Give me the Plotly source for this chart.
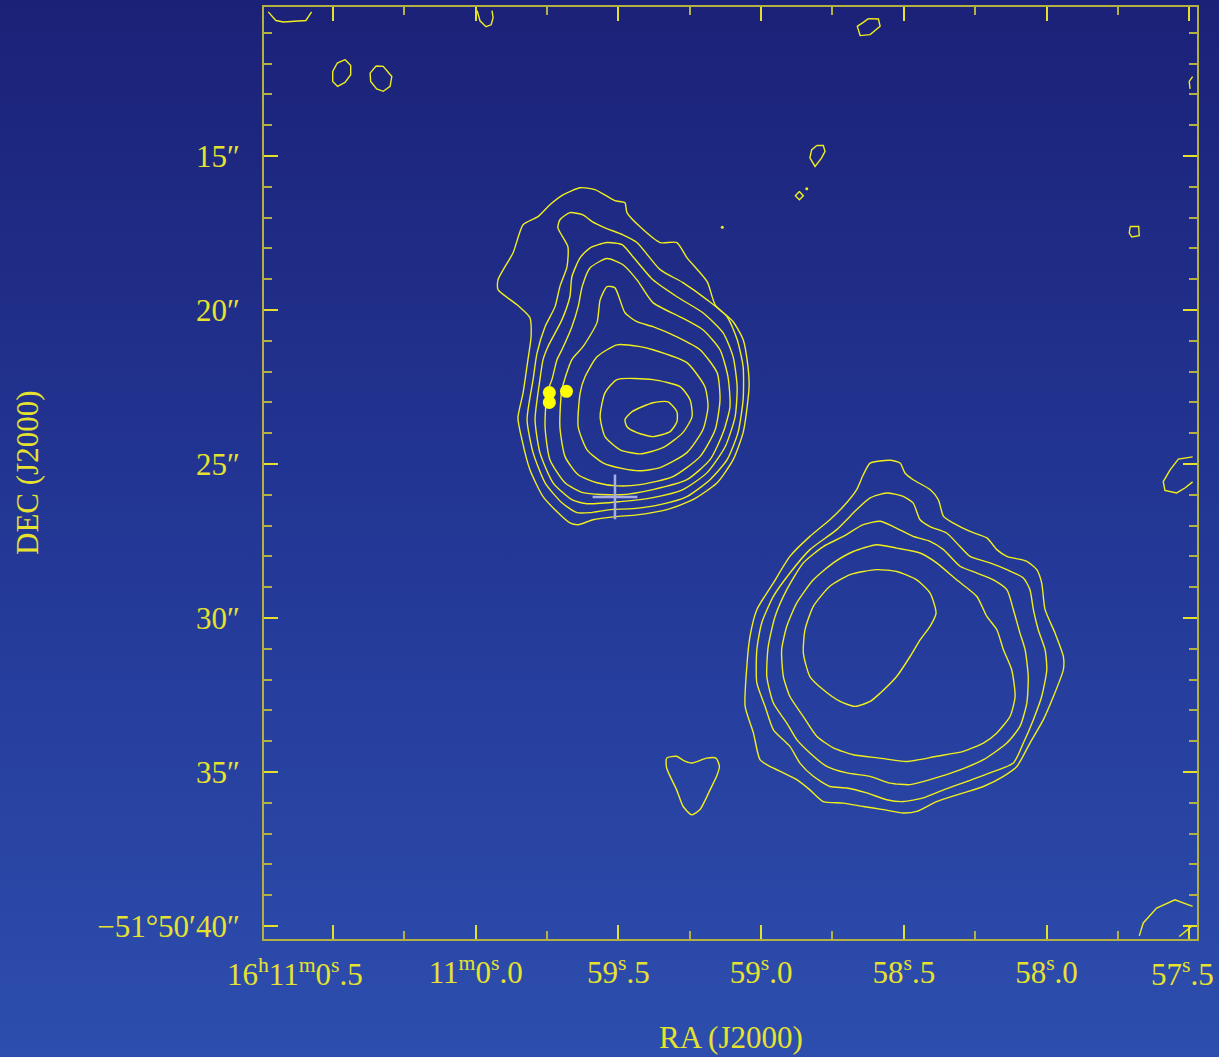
import base64
import plotly.graph_objects as go

# Coordinates: RA = seconds of time relative to 16h11m00s (negative -> 16h10m5x s)
#              DEC = arcsec south of -51d50'00"
# ---- northern source contours (outer -> inner) ----
N1 = [(-0.306,16.26),(-0.366,16.03),(-0.418,16.09),(-0.488,16.45),(-0.523,16.52),(-0.530,16.84),(-0.576,17.30),
      (-0.646,17.81),(-0.705,17.81),(-0.740,18.30),(-0.811,19.08),(-0.839,19.83),(-0.902,20.38),(-0.937,20.96),
      (-0.954,21.84),(-0.958,22.43),(-0.954,22.91),(-0.937,23.98),(-0.902,24.86),(-0.846,25.61),(-0.761,26.16),
      (-0.670,26.48),(-0.565,26.65),(-0.488,26.71),(-0.411,26.81),(-0.359,26.97),(-0.330,26.91),(-0.285,26.55),
      (-0.236,26.06),(-0.190,25.19),(-0.162,24.21),(-0.148,23.50),(-0.166,22.69),(-0.183,21.61),(-0.194,20.87),
      (-0.190,20.25),(-0.145,19.83),(-0.078,19.34),(-0.078,19.02),(-0.131,18.14),(-0.166,17.23),(-0.218,16.97),
      (-0.260,16.58)]
N2 = [(-0.295,17.07),(-0.330,16.84),(-0.376,16.91),(-0.408,17.13),(-0.453,17.33),(-0.516,17.56),(-0.565,17.81),
      (-0.646,18.69),(-0.726,19.11),(-0.811,19.67),(-0.881,20.22),(-0.916,20.96),(-0.937,21.84),(-0.937,22.91),
      (-0.919,23.98),(-0.881,24.86),(-0.821,25.51),(-0.740,26.06),(-0.646,26.32),(-0.551,26.45),(-0.471,26.48),
      (-0.401,26.58),(-0.355,26.58),(-0.302,26.26),(-0.243,25.61),(-0.201,24.63),(-0.180,23.56),(-0.201,22.26),
      (-0.215,21.39),(-0.243,20.54),(-0.278,19.89),(-0.295,19.24),(-0.320,18.59),(-0.323,17.94),(-0.288,17.33)]
N3 = [(-0.366,18.30),(-0.401,17.98),(-0.460,17.81),(-0.513,17.88),(-0.551,18.27),(-0.621,19.02),(-0.705,19.57),
      (-0.796,20.09),(-0.867,20.74),(-0.902,21.52),(-0.916,22.49),(-0.909,23.46),(-0.874,24.44),(-0.811,25.28),
      (-0.726,25.83),(-0.621,26.09),(-0.506,26.22),(-0.390,26.29),(-0.337,26.16),(-0.271,25.61),(-0.225,24.63),
      (-0.208,23.56),(-0.225,22.26),(-0.236,21.61),(-0.253,21.19),(-0.302,20.32),(-0.330,19.57),(-0.337,18.92)]
N4 = [(-0.401,18.63),(-0.460,18.33),(-0.516,18.53),(-0.565,19.02),(-0.621,19.76),(-0.716,20.22),(-0.796,20.64),
      (-0.856,21.29),(-0.884,22.17),(-0.891,23.14),(-0.867,23.98),(-0.821,24.86),(-0.740,25.51),(-0.621,25.83),
      (-0.506,26.00),(-0.376,25.93),(-0.313,25.61),(-0.260,24.86),(-0.243,23.79),(-0.250,22.69),(-0.267,22.26),
      (-0.285,21.61),(-0.302,21.29),(-0.337,20.54),(-0.359,19.89),(-0.373,19.24)]
N5 = [(-0.436,19.67),(-0.460,19.24),(-0.488,19.28),(-0.523,20.09),(-0.565,20.38),(-0.621,20.54),(-0.705,20.87),
      (-0.786,21.29),(-0.846,22.04),(-0.856,22.91),(-0.839,23.89),(-0.786,24.76),(-0.691,25.41),(-0.576,25.67),
      (-0.495,25.71),(-0.425,25.61),(-0.359,25.35),(-0.313,24.76),(-0.295,23.79),(-0.302,22.59),(-0.337,21.61),
      (-0.376,21.19),(-0.425,20.41)]
N6 = [(-0.425,21.52),(-0.495,21.13),(-0.576,21.19),(-0.621,21.29),(-0.740,21.71),(-0.803,22.49),(-0.814,23.14),
      (-0.796,23.89),(-0.740,24.63),(-0.646,25.12),(-0.576,25.22),(-0.516,25.15),(-0.446,24.96),(-0.390,24.54),
      (-0.359,23.79),(-0.366,22.69),(-0.383,22.17)]
N7 = [(-0.495,22.26),(-0.621,22.26),(-0.716,22.49),(-0.751,22.91),(-0.758,23.46),(-0.726,23.98),(-0.656,24.47),
      (-0.576,24.67),(-0.506,24.54),(-0.453,24.11),(-0.436,23.46),(-0.453,22.69)]
N8 = [(-0.548,23.30),(-0.621,23.01),(-0.674,22.98),(-0.705,23.30),(-0.705,23.63),(-0.681,23.95),(-0.621,24.11),
      (-0.565,23.98),(-0.530,23.79),(-0.523,23.56)]

# ---- southern source contours (outer -> inner) ----
S1 = [(-1.452,24.88),(-1.382,24.97),(-1.358,25.35),(-1.335,25.83),(-1.288,26.38),(-1.241,26.81),(-1.171,27.35),
      (-1.101,28.00),(-1.043,28.86),(-0.985,29.73),(-0.961,30.60),(-0.950,31.57),(-0.944,32.87),(-0.973,33.73),
      (-0.996,34.60),(-1.031,34.82),(-1.078,35.03),(-1.125,35.25),(-1.171,35.58),(-1.218,35.96),(-1.288,36.01),
      (-1.358,36.12),(-1.428,36.22),(-1.498,36.33),(-1.545,36.28),(-1.615,35.96),(-1.709,35.68),(-1.779,35.47),
      (-1.849,35.14),(-1.896,34.82),(-1.942,34.06),(-1.989,33.30),(-2.024,32.55),(-2.059,31.68),(-2.059,31.25),
      (-2.030,30.49),(-1.995,29.73),(-1.983,28.86),(-1.966,28.43),(-1.931,28.16),(-1.861,28.00),(-1.826,27.78),
      (-1.791,27.40),(-1.732,27.19),(-1.674,26.92),(-1.639,26.70),(-1.621,26.16),(-1.592,25.83),(-1.533,25.51),
      (-1.504,25.29),(-1.487,24.97)]
S2 = [(-1.440,25.94),(-1.498,26.05),(-1.533,26.27),(-1.557,26.81),(-1.592,27.03),(-1.650,27.24),(-1.697,27.68),
      (-1.732,28.00),(-1.802,28.21),(-1.861,28.43),(-1.919,28.70),(-1.942,29.08),(-1.954,29.73),(-1.971,30.38),
      (-1.995,31.03),(-2.001,31.68),(-1.983,32.55),(-1.954,33.30),(-1.919,34.06),(-1.884,34.71),(-1.802,35.03),
      (-1.720,35.31),(-1.639,35.58),(-1.568,35.84),(-1.498,35.96),(-1.440,35.90),(-1.370,35.68),(-1.300,35.52),
      (-1.241,35.47),(-1.183,35.14),(-1.136,34.71),(-1.101,34.17),(-1.043,33.63),(-1.014,32.87),(-0.985,32.11),
      (-0.985,31.03),(-1.002,30.16),(-1.043,29.30),(-1.101,28.54),(-1.171,27.78),(-1.265,27.13),(-1.335,26.48),
      (-1.382,26.10)]
S3 = [(-1.417,26.86),(-1.463,27.03),(-1.533,27.35),(-1.592,27.51),(-1.639,27.78),(-1.697,28.32),(-1.756,28.54),
      (-1.814,28.76),(-1.861,29.08),(-1.884,29.73),(-1.907,30.49),(-1.925,31.03),(-1.936,31.90),(-1.931,32.76),
      (-1.907,33.52),(-1.861,34.06),(-1.779,34.60),(-1.697,34.93),(-1.592,35.25),(-1.522,35.41),(-1.452,35.36),
      (-1.382,35.14),(-1.300,35.03),(-1.230,34.82),(-1.171,34.38),(-1.125,33.95),(-1.090,33.41),(-1.043,32.76),
      (-1.020,31.90),(-1.025,30.92),(-1.049,29.95),(-1.090,29.08),(-1.148,28.21),(-1.218,27.68),(-1.288,27.35),
      (-1.358,26.97)]
S4 = [(-1.405,27.62),(-1.475,27.73),(-1.557,27.89),(-1.615,28.21),(-1.685,28.76),(-1.756,29.30),(-1.791,29.95),
      (-1.826,30.38),(-1.849,31.03),(-1.878,31.68),(-1.890,32.55),(-1.872,33.20),(-1.826,33.73),(-1.779,34.06),
      (-1.709,34.33),(-1.615,34.49),(-1.510,34.66),(-1.417,34.55),(-1.323,34.44),(-1.253,34.22),(-1.195,33.84),
      (-1.148,33.20),(-1.101,32.55),(-1.078,31.90),(-1.072,31.03),(-1.090,30.27),(-1.125,29.51),(-1.183,28.76),
      (-1.253,28.21),(-1.323,27.84)]
S5 = [(-1.405,28.43),(-1.475,28.49),(-1.545,28.76),(-1.592,29.19),(-1.613,29.84),(-1.592,30.27),(-1.557,30.71),
      (-1.522,31.25),(-1.475,31.90),(-1.417,32.44),(-1.382,32.71),(-1.329,32.87),(-1.277,32.71),(-1.218,32.33),
      (-1.171,31.90),(-1.148,31.14),(-1.154,30.38),(-1.183,29.62),(-1.241,28.97),(-1.312,28.59)]

# ---- small isolated lowest-level contours ----
BLOB_A = [(0.458,11.87),(0.438,12.06),(0.438,12.36),(0.458,12.61),(0.484,12.74),(0.501,12.58),(0.501,12.25),(0.485,11.98)]
BLOB_B = [(0.349,12.08),(0.324,12.09),(0.294,12.42),(0.300,12.74),(0.324,12.90),(0.347,12.82),(0.368,12.58),(0.370,12.31)]
BLOB_C = [(-1.376,10.54),(-1.411,10.55),(-1.417,10.79),(-1.382,11.06),(-1.347,11.09),(-1.337,10.79),(-1.358,10.66)]
BLOB_D = [(-1.195,14.66),(-1.218,14.66),(-1.224,14.85),(-1.212,15.06),(-1.189,15.34),(-1.171,15.06),(-1.177,14.80)]
BLOB_E = [(-1.134,16.15),(-1.148,16.29),(-1.134,16.42),(-1.120,16.29)]
BLOB_F = [(-2.293,17.29),(-2.323,17.29),(-2.325,17.59),(-2.299,17.63),(-2.290,17.50)]
BLOB_G = [(-0.669,34.55),(-0.704,34.49),(-0.727,34.62),(-0.757,34.71),(-0.809,34.55),(-0.842,34.55),(-0.854,34.82),
          (-0.844,35.14),(-0.821,35.58),(-0.786,36.22),(-0.757,36.39),(-0.727,36.12),(-0.704,35.58),(-0.669,34.87)]
# contours cut by the map edge (open)
EDGE_A = [(0.727,10.32),(0.700,10.60),(0.674,10.65),(0.595,10.60),(0.575,10.32)]
EDGE_B = [(-0.005,10.28),(-0.015,10.61),(-0.036,10.80),(-0.054,10.74),(-0.061,10.51),(-0.057,10.28)]
EDGE_C = [(-2.512,12.42),(-2.500,12.58),(-2.503,12.82)]
EDGE_D = [(-2.512,24.77),(-2.462,24.84),(-2.433,25.19),(-2.409,25.57),(-2.415,25.86),(-2.456,25.94),(-2.485,25.78),(-2.512,25.58)]
EDGE_E = [(-2.325,40.32),(-2.339,39.90),(-2.386,39.42),(-2.450,39.15),(-2.512,39.36)]
EDGE_F = [(-2.465,40.34),(-2.509,40.01)]

SPECKS = [(-1.160,16.06),(-0.864,17.31)]
SOURCES = [(-0.258,22.68),(-0.258,23.00),(-0.318,22.64)]
CROSS = [(-0.488,26.07)]

X_TICKS = [0.5, 0.0, -0.5, -1.0, -1.5, -2.0, -2.5]
X_LABELS = ["16<sup>h</sup>11<sup>m</sup>0<sup>s</sup>.5", "11<sup>m</sup>0<sup>s</sup>.0",
            "59<sup>s</sup>.5", "59<sup>s</sup>.0", "58<sup>s</sup>.5", "58<sup>s</sup>.0", "57<sup>s</sup>.5"]
Y_TICKS = [15, 20, 25, 30, 35, 40]
Y_LABELS = ["15″", "20″", "25″", "30″", "35″", "−51°50′40″"]

CONTOUR = "#f0ee1c"
TEXT = "#e6e22e"
FRAME = "#b4b042"
FONT = "Liberation Serif"

fig = go.Figure()


def add_line(pts, closed=True, smooth=True, width=1.4):
    xs = [p[0] for p in pts]
    ys = [p[1] for p in pts]
    if closed:
        xs.append(xs[0])
        ys.append(ys[0])
    fig.add_trace(go.Scatter(
        x=xs, y=ys, mode="lines",
        line=dict(color=CONTOUR, width=width,
                  shape="spline" if smooth else "linear", smoothing=0.6),
        hoverinfo="skip", showlegend=False))


for c in [N1, N2, N3, N4, N5, N6, N7, N8, S1, S2, S3, S4, S5]:
    add_line(c, closed=True, smooth=True)
for c in [BLOB_A, BLOB_B, BLOB_C, BLOB_D, BLOB_E, BLOB_F]:
    add_line(c, closed=True, smooth=False)
add_line(BLOB_G, closed=True, smooth=True)
for c in [EDGE_A, EDGE_B, EDGE_C, EDGE_D, EDGE_E, EDGE_F]:
    add_line(c, closed=False, smooth=False)

fig.add_trace(go.Scatter(x=[p[0] for p in SPECKS], y=[p[1] for p in SPECKS], mode="markers",
                         marker=dict(color=CONTOUR, size=3), hoverinfo="skip", showlegend=False))
fig.add_trace(go.Scatter(x=[p[0] for p in CROSS], y=[p[1] for p in CROSS], mode="markers",
                         marker=dict(symbol="cross-thin", size=32, color="#a8aee2",
                                     line=dict(color="#a8aee2", width=2.5)),
                         hoverinfo="skip", showlegend=False))
fig.add_trace(go.Scatter(x=[p[0] for p in SOURCES], y=[p[1] for p in SOURCES], mode="markers",
                         marker=dict(color="#ffff00", size=13), hoverinfo="skip", showlegend=False))

svg = ('<svg xmlns="http://www.w3.org/2000/svg" width="1219" height="1057" preserveAspectRatio="none">'
       '<defs><linearGradient id="g" x1="0" y1="0" x2="0" y2="1">'
       '<stop offset="0" stop-color="#1b2177"/><stop offset="0.5" stop-color="#233795"/>'
       '<stop offset="1" stop-color="#2d4eae"/></linearGradient></defs>'
       '<rect width="1219" height="1057" fill="url(#g)"/></svg>')
bg_uri = "data:image/svg+xml;base64," + base64.b64encode(svg.encode()).decode()

W, H = 1219, 1057
ML, MR, MT, MB = 264, 22, 7, 118
PW, PH = W - ML - MR, H - MT - MB

# the two outermost RA labels are placed as right-aligned annotations (as in the original)
tick_text = [""] + X_LABELS[1:-1] + [""]
label_y = -(972 - (H - MB)) / PH

axis_common = dict(
    ticks="inside", ticklen=14, tickwidth=1.5, tickcolor="#e4e02c",
    showline=True, linecolor=FRAME, linewidth=2, mirror="allticks",
    showgrid=False, zeroline=False, ticklabeloverflow="allow",
    automargin=False, tickangle=0,
    tickfont=dict(family=FONT, size=31, color=TEXT),
)

fig.update_layout(
    width=W, height=H,
    margin=dict(l=ML, r=MR, t=MT, b=MB, pad=0, autoexpand=False),
    paper_bgcolor="#1b2177", plot_bgcolor="rgba(0,0,0,0)",
    xaxis=dict(range=[0.7418, -2.5273], tickmode="array", tickvals=X_TICKS, ticktext=tick_text,
               minor=dict(dtick=0.25, tick0=0, ticks="inside", ticklen=8, tickwidth=1.5, tickcolor=FRAME),
               ticklabelstandoff=5, **axis_common),
    yaxis=dict(range=[40.422, 10.162], tickmode="array", tickvals=Y_TICKS, ticktext=Y_LABELS,
               minor=dict(dtick=1, tick0=0, ticks="inside", ticklen=8, tickwidth=1.5, tickcolor=FRAME),
               ticklabelstandoff=16, **axis_common),
    images=[dict(source=bg_uri, xref="paper", yref="paper", x=-(ML + 3) / PW, y=1 + (MT + 3) / PH,
                 sizex=(W + 6) / PW, sizey=(H + 6) / PH, xanchor="left", yanchor="top",
                 sizing="stretch", layer="below")],
    annotations=[
        dict(text=X_LABELS[0], xref="x", yref="paper", x=X_TICKS[0], y=label_y, xshift=32,
             xanchor="right", yanchor="middle", showarrow=False,
             font=dict(family=FONT, size=31, color=TEXT)),
        dict(text=X_LABELS[-1], xref="x", yref="paper", x=X_TICKS[-1], y=label_y, xshift=27,
             xanchor="right", yanchor="middle", showarrow=False,
             font=dict(family=FONT, size=31, color=TEXT)),
        dict(text="RA (J2000)", xref="paper", yref="paper", x=0.5, y=-(1037 - (H - MB)) / PH,
             xanchor="center", yanchor="middle", showarrow=False,
             font=dict(family=FONT, size=31, color=TEXT)),
        dict(text="DEC (J2000)", xref="paper", yref="paper", x=(27 - ML) / PW, y=0.5,
             xanchor="center", yanchor="middle", showarrow=False, textangle=-90,
             font=dict(family=FONT, size=31, color=TEXT)),
    ],
)

fig.write_html(
    "out.html",
    config={"displayModeBar": False},
    post_script="document.body.style.margin='0';document.body.style.overflow='hidden';"
                "document.documentElement.style.overflow='hidden';",
)
